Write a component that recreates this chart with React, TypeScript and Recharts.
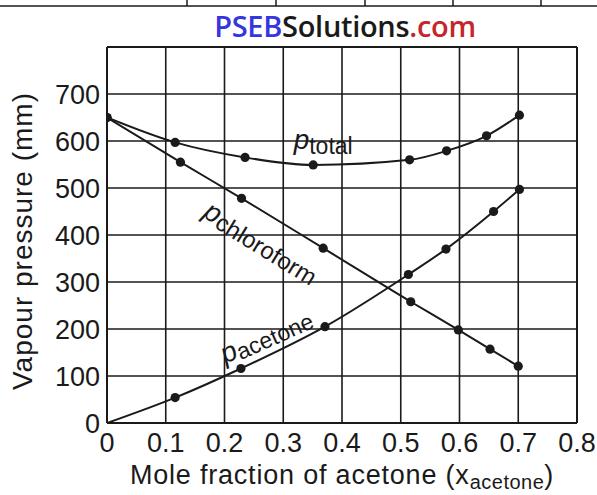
import React from 'react';
import { LineChart, Line, XAxis, YAxis, CartesianGrid, ReferenceLine, ReferenceDot, Label } from 'recharts';

const xTicks = [0, 0.1, 0.2, 0.3, 0.4, 0.5, 0.6, 0.7, 0.8];
const xTickLabels = ['0', '0.1', '0.2', '0.3', '0.4', '0.5', '0.6', '0.7', '0.8'];
const yTicks = [0, 100, 200, 300, 400, 500, 600, 700];

const totalX = [0, 0.116, 0.235, 0.351, 0.515, 0.578, 0.646, 0.702];
const totalY = [650, 597, 565, 549, 560, 579, 611, 655];
const chloroX = [0, 0.125, 0.229, 0.368, 0.517, 0.598, 0.652, 0.7];
const chloroY = [650, 555, 478, 372, 258, 198, 157, 121];
const acetoneX = [0, 0.116, 0.228, 0.371, 0.513, 0.577, 0.658, 0.702];
const acetoneY = [0, 54, 116, 205, 316, 370, 450, 497];

const totalData = totalX.map((x, i) => ({ x, y: totalY[i] }));
const chloroData = chloroX.map((x, i) => ({ x, y: chloroY[i] }));
const acetoneData = acetoneX.map((x, i) => ({ x, y: acetoneY[i] }));

const FONT = '"Liberation Sans", Arial, sans-serif';
const INK = '#1a1a1a';

const dot = (props: any) => {
  const { cx, cy, payload, index } = props;
  if (payload && payload.y === 0) return <g key={`d${index}`} />;
  return <circle key={`d${index}`} cx={cx} cy={cy} r={4.6} fill={INK} stroke="none" />;
};

const makeCurveLabel = (main: string, sub: string, rot: number, subSize: number, subDy: number) => (props: any) => {
  const { viewBox } = props;
  const cx = (viewBox.x ?? 0) + (viewBox.width ?? 0) / 2;
  const cy = (viewBox.y ?? 0) + (viewBox.height ?? 0) / 2;
  return (
    <text
      x={cx}
      y={cy}
      transform={`rotate(${rot} ${cx} ${cy})`}
      textAnchor="middle"
      fontFamily={FONT}
      fill={INK}
    >
      <tspan fontStyle="italic" fontSize={28}>{main}</tspan>
      <tspan fontSize={subSize} dy={subDy}>{sub}</tspan>
    </text>
  );
};

const TotalLabel = makeCurveLabel('p', 'total', 0, 23, 5);
const ChloroLabel = makeCurveLabel('p', 'chloroform', 31.5, 24, 3);
const AcetoneLabel = makeCurveLabel('p', 'acetone', -24, 23, 3);

const XLabel = (props: any) => {
  const { viewBox } = props;
  const x = viewBox.x + viewBox.width / 2;
  const y = 484;
  return (
    <text x={x} y={y} textAnchor="middle" fontFamily={FONT} fill={INK} fontSize={27} letterSpacing={0.8}>
      Mole fraction of acetone (x
      <tspan fontSize={20} dy={5} letterSpacing={0.5}>acetone</tspan>
      <tspan dy={-5}>)</tspan>
    </text>
  );
};

const YLabel = () => {
  const x = 32;
  const y = 241;
  return (
    <text x={x} y={y} transform={`rotate(-90 ${x} ${y})`} textAnchor="middle" fontFamily={FONT} fill={INK} fontSize={28} letterSpacing={1}>
      Vapour pressure (mm)
    </text>
  );
};

export default function App() {
  return (
    <div style={{ position: 'absolute', left: 0, top: 0, width: 597, height: 495, background: '#fff' }}>
      <svg width={597} height={12} style={{ position: 'absolute', left: 0, top: 0 }}>
        <line x1={0} y1={6} x2={597} y2={6} stroke={INK} strokeWidth={1.5} />
        {[187, 276, 365, 453, 541].map((v) => (
          <line key={v} x1={v} y1={0} x2={v} y2={6} stroke={INK} strokeWidth={1.5} />
        ))}
      </svg>
      <div
        style={{
          position: 'absolute',
          left: 0,
          width: 690,
          top: 6,
          textAlign: 'center',
          fontFamily: '"Open Sans", sans-serif',
          fontWeight: 600,
          fontSize: 29,
          lineHeight: '40px',
          letterSpacing: -0.3,
        }}
      >
        <span style={{ color: '#3636e0' }}>PSEB</span>
        <span style={{ color: '#1a1a1a' }}>Solutions</span>
        <span style={{ color: '#c4262c' }}>.com</span>
      </div>
      <div style={{ position: 'absolute', left: 0, top: 0 }}>
        <LineChart width={597} height={495} margin={{ top: 47, right: 20, bottom: 0, left: 0 }}>
          <CartesianGrid stroke={INK} strokeWidth={1.6} horizontalValues={yTicks} verticalValues={xTicks} />
          <XAxis
            type="number"
            dataKey="x"
            domain={[0, 0.8]}
            ticks={xTicks}
            tickFormatter={(v: number) => xTickLabels[xTicks.indexOf(v)] ?? String(v)}
            interval={0}
            height={72}
            tickSize={0}
            tickMargin={10}
            axisLine={{ stroke: INK, strokeWidth: 2 }}
            tick={{ fontFamily: FONT, fontSize: 27, fill: INK }}
            allowDataOverflow
          >
            <Label content={XLabel} />
          </XAxis>
          <YAxis
            type="number"
            dataKey="y"
            domain={[0, 800]}
            ticks={yTicks}
            interval={0}
            width={107}
            tickSize={0}
            tickMargin={7}
            axisLine={{ stroke: INK, strokeWidth: 2 }}
            tick={{ fontFamily: FONT, fontSize: 27, fill: INK }}
            allowDataOverflow
          >
            <Label content={YLabel} />
          </YAxis>
          <ReferenceLine y={800} stroke={INK} strokeWidth={2} />
          <ReferenceLine x={0.8} stroke={INK} strokeWidth={2} />
          <Line data={totalData} dataKey="y" type="monotone" stroke={INK} strokeWidth={2} dot={dot} isAnimationActive={false} />
          <Line data={chloroData} dataKey="y" type="monotone" stroke={INK} strokeWidth={2} dot={dot} isAnimationActive={false} />
          <Line data={acetoneData} dataKey="y" type="monotone" stroke={INK} strokeWidth={2} dot={dot} isAnimationActive={false} />
          <ReferenceDot x={0.368} y={583} r={0} stroke="none" fill="none" label={{ content: TotalLabel }} />
          <ReferenceDot x={0.255} y={368} r={0} stroke="none" fill="none" label={{ content: ChloroLabel }} />
          <ReferenceDot x={0.277} y={168} r={0} stroke="none" fill="none" label={{ content: AcetoneLabel }} />
        </LineChart>
      </div>
    </div>
  );
}
